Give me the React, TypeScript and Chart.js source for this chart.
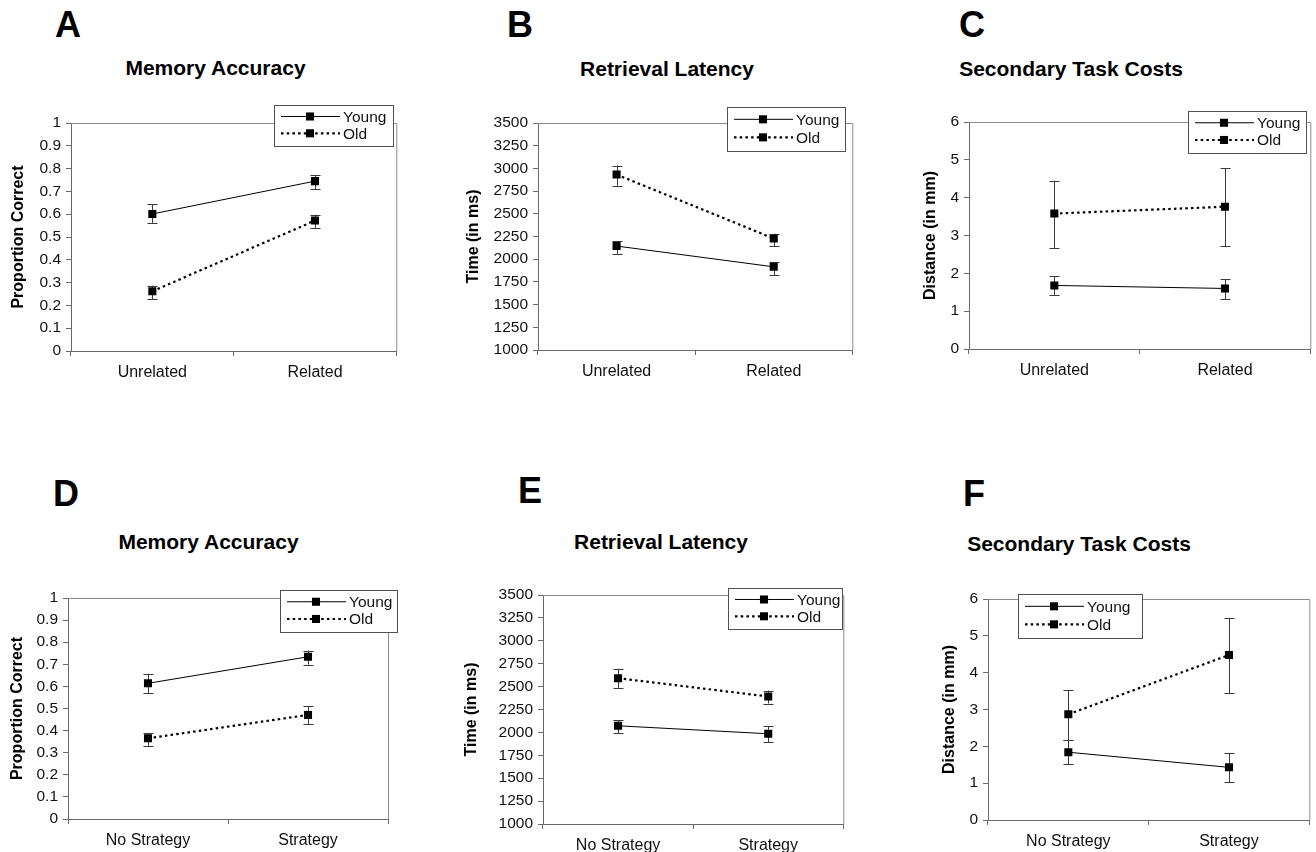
import { useEffect, useRef } from 'react';
import { Chart, registerables } from 'chart.js';
Chart.register(...registerables);

const FONT = '"Liberation Sans", Arial, Helvetica, sans-serif';
Chart.defaults.font.family = FONT;

// ---------- data ----------
const relatedLabels = ['Unrelated', 'Related'];
const strategyLabels = ['No Strategy', 'Strategy'];
const seriesNames = ['Young', 'Old'];

// A: Memory accuracy (relatedness)
const youngA = [0.601, 0.745];
const youngLoA = [0.562, 0.71];
const youngHiA = [0.644, 0.771];
const oldA = [0.262, 0.572];
const oldLoA = [0.227, 0.538];
const oldHiA = [0.287, 0.598];

// B: Retrieval latency (relatedness)
const youngB = [2145, 1916];
const youngLoB = [2060, 1825];
const youngHiB = [2200, 1964];
const oldB = [2932, 2228];
const oldLoB = [2811, 2140];
const oldHiB = [3031, 2279];

// C: Secondary task costs (relatedness)
const youngC = [1.68, 1.6];
const youngLoC = [1.43, 1.32];
const youngHiC = [1.92, 1.85];
const oldC = [3.58, 3.76];
const oldLoC = [2.66, 2.71];
const oldHiC = [4.45, 4.78];

// D: Memory accuracy (strategy)
const youngD = [0.614, 0.734];
const youngLoD = [0.57, 0.699];
const youngHiD = [0.654, 0.761];
const oldD = [0.365, 0.471];
const oldLoD = [0.331, 0.43];
const oldHiD = [0.388, 0.511];

// E: Retrieval latency (strategy)
const youngE = [2072, 1985];
const youngLoE = [1992, 1894];
const youngHiE = [2134, 2065];
const oldE = [2592, 2392];
const oldLoE = [2486, 2315];
const oldHiE = [2693, 2457];

// F: Secondary task costs (strategy)
const youngF = [1.84, 1.43];
const youngLoF = [1.52, 1.03];
const youngHiF = [2.17, 1.82];
const oldF = [2.87, 4.48];
const oldLoF = [2.17, 3.44];
const oldHiF = [3.52, 5.48];

const accTicks = { min: 0, max: 1, step: 0.1 };
const latTicks = { min: 1000, max: 3500, step: 250 };
const distTicks = { min: 0, max: 6, step: 1 };

// ---------- layout ----------
type Rect = { l: number; t: number; r: number; b: number };
type Panel = {
  letter: string;
  title: string;
  yTitle: string;
  labels: string[];
  young: number[]; youngLo: number[]; youngHi: number[];
  old: number[]; oldLo: number[]; oldHi: number[];
  range: { min: number; max: number; step: number };
  plot: Rect;
  yTitleX: number;
  bottom: number;
  legend: { x: number; y: number; w: number; h: number };
  letterPos: { x: number; capTop: number };
  titlePos: { cx: number; cy: number };
};

const panels: Panel[] = [
  {
    letter: 'A', title: 'Memory Accuracy', yTitle: 'Proportion Correct', labels: relatedLabels,
    young: youngA, youngLo: youngLoA, youngHi: youngHiA, old: oldA, oldLo: oldLoA, oldHi: oldHiA,
    range: accTicks, plot: { l: 71, t: 123, r: 399, b: 351 }, yTitleX: 18, bottom: 398,
    legend: { x: 274, y: 105, w: 119, h: 41 }, letterPos: { x: 55, capTop: 12 }, titlePos: { cx: 215.5, cy: 67.5 },
  },
  {
    letter: 'B', title: 'Retrieval Latency', yTitle: 'Time (in ms)', labels: relatedLabels,
    young: youngB, youngLo: youngLoB, youngHi: youngHiB, old: oldB, oldLo: oldLoB, oldHi: oldHiB,
    range: latTicks, plot: { l: 538, t: 123, r: 855, b: 350 }, yTitleX: 473, bottom: 398,
    legend: { x: 727, y: 107, w: 118, h: 44 }, letterPos: { x: 507, capTop: 12 }, titlePos: { cx: 667, cy: 68 },
  },
  {
    letter: 'C', title: 'Secondary Task Costs', yTitle: 'Distance (in mm)', labels: relatedLabels,
    young: youngC, youngLo: youngLoC, youngHi: youngHiC, old: oldC, oldLo: oldLoC, oldHi: oldHiC,
    range: distTicks, plot: { l: 969, t: 122, r: 1313, b: 349 }, yTitleX: 930, bottom: 398,
    legend: { x: 1188, y: 111, w: 118, h: 42 }, letterPos: { x: 959, capTop: 12 }, titlePos: { cx: 1071, cy: 68 },
  },
  {
    letter: 'D', title: 'Memory Accuracy', yTitle: 'Proportion Correct', labels: strategyLabels,
    young: youngD, youngLo: youngLoD, youngHi: youngHiD, old: oldD, oldLo: oldLoD, oldHi: oldHiD,
    range: accTicks, plot: { l: 68, t: 598, r: 388, b: 819 }, yTitleX: 17, bottom: 852,
    legend: { x: 280, y: 590, w: 117, h: 42 }, letterPos: { x: 53, capTop: 481 }, titlePos: { cx: 208.5, cy: 541 },
  },
  {
    letter: 'E', title: 'Retrieval Latency', yTitle: 'Time (in ms)', labels: strategyLabels,
    young: youngE, youngLo: youngLoE, youngHi: youngHiE, old: oldE, oldLo: oldLoE, oldHi: oldHiE,
    range: latTicks, plot: { l: 543, t: 595, r: 846, b: 824 }, yTitleX: 471, bottom: 852,
    legend: { x: 728, y: 588, w: 114, h: 41 }, letterPos: { x: 518, capTop: 478 }, titlePos: { cx: 661, cy: 541.7 },
  },
  {
    letter: 'F', title: 'Secondary Task Costs', yTitle: 'Distance (in mm)', labels: strategyLabels,
    young: youngF, youngLo: youngLoF, youngHi: youngHiF, old: oldF, oldLo: oldLoF, oldHi: oldHiF,
    range: distTicks, plot: { l: 988, t: 599, r: 1312, b: 820 }, yTitleX: 949, bottom: 852,
    legend: { x: 1018, y: 594, w: 124, h: 44 }, letterPos: { x: 963, capTop: 481 }, titlePos: { cx: 1079, cy: 543 },
  },
];

const AXIS = '#6a6a6a';
const FRAME = '#8c8c8c';
const INK = '#111111';
const PT_R = 5.7;

function canvasBox(p: Panel) {
  const x = p.yTitleX - 14;
  const y = p.plot.t - 30;
  const r = Math.min(1316, Math.max(p.plot.r, p.legend.x + p.legend.w) + 3);
  return { x, y, w: r - x, h: p.bottom - y };
}

function fmt(v: number) {
  return String(Number(v.toFixed(2)));
}

function PanelChart({ p }: { p: Panel }) {
  const ref = useRef<HTMLCanvasElement | null>(null);
  const box = canvasBox(p);

  useEffect(() => {
    if (!ref.current) return;
    const errPlugin = {
      id: 'errbars',
      beforeDatasetsDraw(chart: any) {
        const { ctx, chartArea } = chart;
        ctx.save();
        // frame top & right
        ctx.strokeStyle = FRAME;
        ctx.lineWidth = 1;
        ctx.beginPath();
        ctx.moveTo(chartArea.left, chartArea.top + 0.5);
        ctx.lineTo(chartArea.right + 0.5, chartArea.top + 0.5);
        ctx.lineTo(chartArea.right + 0.5, chartArea.bottom);
        ctx.stroke();
        const xs = chart.scales.x;
        const ys = chart.scales.y;
        ctx.strokeStyle = '#3a3a3a';
        chart.data.datasets.forEach((ds: any) => {
          ds.data.forEach((_: number, j: number) => {
            const x = Math.round(xs.getPixelForValue(j)) + 0.5;
            const y1 = ys.getPixelForValue(ds.errLo[j]);
            const y2 = ys.getPixelForValue(ds.errHi[j]);
            ctx.beginPath();
            ctx.moveTo(x, y1);
            ctx.lineTo(x, y2);
            ctx.moveTo(x - 5, Math.round(y1) + 0.5);
            ctx.lineTo(x + 5, Math.round(y1) + 0.5);
            ctx.moveTo(x - 5, Math.round(y2) + 0.5);
            ctx.lineTo(x + 5, Math.round(y2) + 0.5);
            ctx.stroke();
          });
        });
        ctx.restore();
      },
    };
    const legendPlugin = {
      id: 'boxlegend',
      afterDraw(chart: any) {
        const { ctx } = chart;
        const L = p.legend;
        const lx = L.x - box.x;
        const ly = L.y - box.y;
        ctx.save();
        ctx.fillStyle = '#ffffff';
        ctx.fillRect(lx, ly, L.w, L.h);
        ctx.strokeStyle = '#505050';
        ctx.lineWidth = 1;
        ctx.strokeRect(Math.round(lx) + 0.5, Math.round(ly) + 0.5, Math.round(L.w), Math.round(L.h));
        const rows = [ly + L.h * 0.28, ly + L.h * 0.69];
        chart.data.datasets.forEach((ds: any, i: number) => {
          const y = rows[i];
          ctx.strokeStyle = '#000';
          ctx.lineWidth = ds.borderWidth;
          ctx.setLineDash(ds.borderDash || []);
          ctx.beginPath();
          ctx.moveTo(lx + 7, y);
          ctx.lineTo(lx + 66, y);
          ctx.stroke();
          ctx.setLineDash([]);
          const s = PT_R * Math.SQRT1_2;
          ctx.fillStyle = '#000';
          ctx.fillRect(lx + 36 - s, y - s, 2 * s, 2 * s);
          ctx.fillStyle = INK;
          ctx.font = `15.5px ${FONT}`;
          ctx.textBaseline = 'middle';
          ctx.textAlign = 'left';
          ctx.fillText(ds.label, lx + 69, y + 1);
        });
        ctx.restore();
      },
    };

    const chart = new Chart(ref.current, {
      type: 'line',
      data: {
        labels: p.labels,
        datasets: [
          {
            label: seriesNames[0], data: p.young, errLo: p.youngLo, errHi: p.youngHi,
            borderColor: '#000', borderWidth: 1, pointStyle: 'rect', pointRadius: PT_R,
            pointBackgroundColor: '#000', pointBorderWidth: 0, fill: false, tension: 0,
          } as any,
          {
            label: seriesNames[1], data: p.old, errLo: p.oldLo, errHi: p.oldHi,
            borderColor: '#000', borderWidth: 2.2, borderDash: [2.5, 3.2], pointStyle: 'rect', pointRadius: PT_R,
            pointBackgroundColor: '#000', pointBorderWidth: 0, fill: false, tension: 0,
          } as any,
        ],
      },
      options: {
        responsive: false,
        animation: false,
        devicePixelRatio: 1,
        events: [],
        layout: { padding: { left: 0, top: p.plot.t - box.y, right: box.x + box.w - p.plot.r, bottom: 0 } },
        plugins: { legend: { display: false }, title: { display: false }, tooltip: { enabled: false } },
        scales: {
          x: {
            type: 'category',
            offset: true,
            grid: { display: true, offset: true, drawOnChartArea: false, drawTicks: true, tickLength: 5, color: AXIS },
            border: { display: true, color: AXIS, width: 1 },
            ticks: { color: INK, font: { family: FONT, size: 16 }, padding: 7, maxRotation: 0, autoSkip: false },
            afterFit: (s: any) => { s.height = box.y + box.h - p.plot.b; },
          },
          y: {
            type: 'linear',
            min: p.range.min,
            max: p.range.max,
            grid: { display: true, drawOnChartArea: false, drawTicks: true, tickLength: 5, color: AXIS },
            border: { display: true, color: AXIS, width: 1 },
            ticks: {
              stepSize: p.range.step, autoSkip: false, color: INK, padding: 5,
              font: { family: FONT, size: 15.5 },
              callback: (v: any) => fmt(Number(v)),
            },
            title: {
              display: true, text: p.yTitle, color: '#000',
              font: { family: FONT, size: 16, weight: 'bold' },
              padding: { top: 4.5, bottom: 0 },
            },
            afterFit: (s: any) => { s.width = p.plot.l - box.x; },
          },
        },
      } as any,
      plugins: [errPlugin, legendPlugin],
    });
    return () => chart.destroy();
  }, []);

  return (
    <>
      <div
        style={{
          position: 'absolute', left: p.letterPos.x, top: p.letterPos.capTop - 4.7,
          fontSize: 36, lineHeight: '36px', fontWeight: 'bold', color: '#000', fontFamily: FONT,
        }}
      >
        {p.letter}
      </div>
      <div
        style={{
          position: 'absolute', left: p.titlePos.cx - 200, width: 400, top: p.titlePos.cy - 10.3,
          fontSize: 21, lineHeight: '21px', fontWeight: 'bold', color: '#000', textAlign: 'center', fontFamily: FONT,
        }}
      >
        {p.title}
      </div>
      <canvas
        ref={ref}
        width={box.w}
        height={box.h}
        style={{ position: 'absolute', left: box.x, top: box.y, width: box.w, height: box.h }}
      />
    </>
  );
}

export default function App() {
  return (
    <div
      style={{
        position: 'absolute', left: 0, top: 0, width: 1316, height: 852,
        overflow: 'hidden', background: '#fff', fontFamily: FONT,
      }}
    >
      {panels.map((p) => (
        <PanelChart key={p.letter} p={p} />
      ))}
    </div>
  );
}
